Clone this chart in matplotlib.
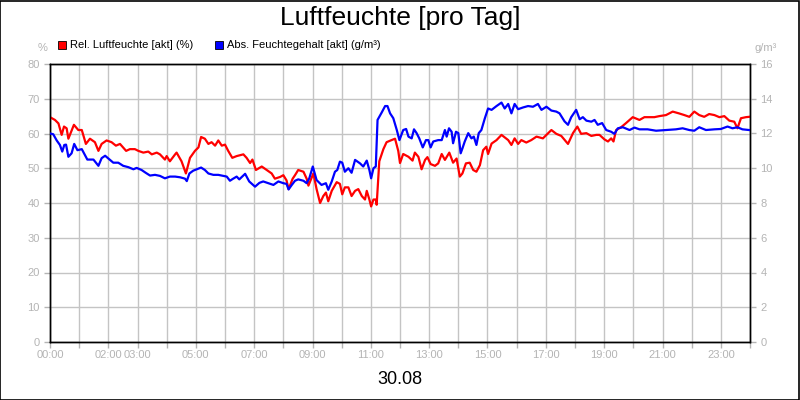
import matplotlib
matplotlib.use("Agg")
import matplotlib.pyplot as plt
from matplotlib.patches import Rectangle

title = "Luftfeuchte [pro Tag]"
date_label = "30.08"
rel_label = "Rel. Luftfeuchte [akt] (%)"
abs_label = "Abs. Feuchtegehalt [akt] (g/m³)"

# Relative humidity (%), left axis
rel_hours = [0.00, 0.17, 0.29, 0.40, 0.48, 0.57, 0.63, 0.82, 0.97, 1.09, 1.23, 1.37, 1.54, 1.66, 1.77, 1.94,
             2.11, 2.26, 2.40, 2.61, 2.74, 2.91, 3.03, 3.20, 3.37, 3.49, 3.66, 3.77, 3.94, 4.00, 4.11, 4.29,
             4.34, 4.51, 4.66, 4.80, 4.97, 5.09, 5.18, 5.31, 5.43, 5.54, 5.66, 5.77, 5.89, 6.00, 6.11, 6.25,
             6.40, 6.63, 6.74, 6.86, 6.94, 7.06, 7.26, 7.43, 7.60, 7.71, 7.89, 8.00, 8.11, 8.18, 8.32, 8.40,
             8.51, 8.69, 8.80, 8.86, 9.03, 9.14, 9.26, 9.37, 9.46, 9.54, 9.66, 9.83, 9.94, 10.02, 10.11, 10.23,
             10.34, 10.46, 10.57, 10.69, 10.80, 10.86, 10.95, 11.01, 11.09, 11.17, 11.20, 11.29, 11.43, 11.54,
             11.68, 11.83, 11.94, 12.00, 12.11, 12.29, 12.43, 12.51, 12.63, 12.74, 12.86, 12.94, 13.05, 13.20,
             13.31, 13.43, 13.54, 13.69, 13.82, 13.94, 14.05, 14.14, 14.26, 14.39, 14.51, 14.62, 14.74, 14.85,
             14.96, 15.02, 15.14, 15.31, 15.48, 15.59, 15.71, 15.82, 15.93, 16.05, 16.16, 16.33, 16.50, 16.68,
             16.90, 17.02, 17.19, 17.36, 17.53, 17.76, 17.93, 18.08, 18.21, 18.39, 18.56, 18.73, 18.84, 19.01,
             19.13, 19.24, 19.32, 19.41, 19.58, 19.75, 19.98, 20.21, 20.38, 20.55, 20.72, 20.89, 21.12, 21.35,
             21.56, 21.75, 21.92, 22.09, 22.26, 22.43, 22.60, 22.78, 22.95, 23.12, 23.29, 23.46, 23.57, 23.69,
             23.86, 23.97]
rel_values = [64.7, 63.9, 62.9, 59.6, 62.0, 61.5, 58.5, 62.5, 61.0, 61.0, 57.0, 58.5, 57.5, 55.0, 57.0, 58.0,
              57.5, 56.5, 57.0, 55.0, 55.5, 55.5, 55.0, 54.5, 54.8, 54.0, 54.5, 54.0, 52.5, 53.5, 52.0, 54.0,
              54.5, 52.0, 48.5, 53.0, 55.0, 56.0, 59.0, 58.5, 57.0, 57.5, 56.5, 58.0, 56.5, 56.8, 55.0, 53.0,
              53.5, 54.0, 53.0, 51.5, 52.5, 49.5, 50.5, 49.5, 48.5, 47.0, 47.5, 48.0, 46.5, 44.0, 47.0, 48.0,
              49.5, 49.0, 47.0, 45.0, 48.5, 44.0, 40.0, 42.0, 43.0, 40.5, 43.5, 46.0, 45.5, 42.5, 44.5, 44.5,
              42.0, 43.5, 44.0, 42.0, 41.0, 43.5, 41.0, 39.0, 41.0, 41.0, 39.5, 52.0, 55.5, 57.5,
              58.0, 58.5, 55.0, 51.5, 54.1, 53.3, 52.2, 54.5, 53.3, 49.7, 52.4, 53.2, 51.2, 50.7,
              51.4, 54.1, 52.4, 54.5, 51.6, 52.8, 47.6, 48.5, 51.4, 51.6, 49.5, 49.0, 50.9, 55.2,
              56.2, 54.1, 57.1, 58.1, 59.6, 58.9, 58.1, 56.7, 58.6, 57.0, 58.1, 57.4, 58.1, 59.1,
              58.6, 59.6, 61.0, 59.9, 59.3, 57.0, 60.1, 62.0, 59.9, 60.1, 59.3, 59.6, 59.6, 58.3,
              57.7, 58.6, 57.7, 61.0, 61.8, 63.0, 64.7, 63.9, 64.7, 64.7, 64.7, 65.0, 65.3, 66.3,
              65.8, 65.3, 64.8, 66.3, 65.3, 64.8, 65.6, 65.3, 64.7, 65.0, 63.7, 63.4, 61.5, 64.4,
              64.7, 64.8]

# Absolute humidity (g/m³), right axis
abs_hours = [0.00, 0.11, 0.23, 0.34, 0.42, 0.49, 0.55, 0.63, 0.74, 0.83, 0.94, 1.09, 1.20, 1.28, 1.49, 1.66,
             1.77, 1.89, 2.06, 2.17, 2.34, 2.51, 2.69, 2.86, 2.97, 3.14, 3.28, 3.43, 3.60, 3.77, 3.94, 4.11,
             4.29, 4.46, 4.63, 4.69, 4.78, 4.91, 5.03, 5.18, 5.31, 5.43, 5.60, 5.77, 5.89, 6.06, 6.17, 6.26,
             6.40, 6.49, 6.69, 6.83, 7.03, 7.18, 7.31, 7.49, 7.66, 7.83, 8.00, 8.11, 8.18, 8.29, 8.40, 8.51,
             8.69, 8.80, 8.89, 9.01, 9.14, 9.31, 9.46, 9.54, 9.66, 9.77, 9.85, 9.94, 10.02, 10.11, 10.23, 10.34,
             10.46, 10.63, 10.74, 10.86, 10.95, 11.01, 11.09, 11.17, 11.23, 11.37, 11.49, 11.57, 11.66, 11.77,
             11.89, 11.98, 12.11, 12.21, 12.29, 12.40, 12.48, 12.57, 12.66, 12.78, 12.89, 12.97, 13.05, 13.14,
             13.31, 13.43, 13.54, 13.60, 13.68, 13.77, 13.82, 13.92, 14.00, 14.08, 14.14, 14.22, 14.34, 14.45,
             14.53, 14.62, 14.70, 14.79, 14.91, 15.02, 15.14, 15.31, 15.48, 15.59, 15.71, 15.82, 15.93, 16.05,
             16.22, 16.39, 16.56, 16.73, 16.85, 17.02, 17.19, 17.36, 17.47, 17.64, 17.76, 17.87, 18.04, 18.16,
             18.27, 18.39, 18.56, 18.67, 18.78, 18.93, 19.07, 19.24, 19.35, 19.47, 19.64, 19.87, 20.04, 20.21,
             20.49, 20.78, 21.12, 21.46, 21.69, 21.92, 22.09, 22.26, 22.49, 22.78, 23.00, 23.23, 23.40, 23.57,
             23.74, 23.97]
abs_values = [12.00, 11.96, 11.60, 11.34, 10.96, 11.34, 11.36, 10.66, 10.86, 11.40, 11.04, 11.10, 10.76, 10.50, 10.50, 10.14,
              10.58, 10.72, 10.48, 10.32, 10.32, 10.14, 10.06, 9.94, 10.02, 9.90, 9.74, 9.58, 9.62, 9.56, 9.42, 9.52,
              9.52, 9.48, 9.40, 9.26, 9.70, 9.86, 9.94, 10.04, 9.90, 9.70, 9.62, 9.62, 9.58, 9.52, 9.28, 9.38,
              9.52, 9.36, 9.68, 9.24, 8.94, 9.16, 9.24, 9.14, 9.04, 9.24, 9.14, 9.10, 8.78, 9.04, 9.28, 9.36,
              9.28, 9.14, 9.42, 10.10, 9.32, 9.04, 9.14, 8.76, 9.24, 9.80, 9.90, 10.38, 10.32, 9.80, 10.00, 9.74,
              10.48, 10.28, 10.10, 10.44, 9.90, 9.42, 10.00, 10.10, 12.78, 13.20, 13.58, 13.58, 13.16, 12.88,
              12.20, 11.62, 12.20, 12.26, 11.82, 11.72, 12.24, 12.02, 11.72, 11.20, 11.62, 11.62, 11.20, 11.54,
              11.62, 11.62, 12.20, 11.82, 12.30, 12.10, 11.44, 12.10, 12.02, 10.86, 11.14, 11.54, 12.02, 11.72,
              11.82, 11.34, 12.02, 12.20, 12.88, 13.44, 13.36, 13.58, 13.78, 13.44, 13.70, 13.16, 13.70, 13.40,
              13.50, 13.58, 13.54, 13.70, 13.36, 13.54, 13.32, 13.26, 13.16, 12.70, 12.50, 12.94, 13.36, 12.82,
              12.94, 12.74, 12.68, 12.78, 12.50, 12.60, 12.20, 12.10, 11.98, 12.30, 12.36, 12.20, 12.34, 12.24,
              12.24, 12.16, 12.20, 12.24, 12.30, 12.20, 12.16, 12.36, 12.20, 12.24, 12.26, 12.40, 12.30, 12.36,
              12.24, 12.20]

x_label_hours = [0, 2, 3, 5, 7, 9, 11, 13, 15, 17, 19, 21, 23]
left_ticks = [0, 10, 20, 30, 40, 50, 60, 70, 80]
right_ticks = [0, 2, 4, 6, 8, 10, 12, 14, 16]

GRAY = "#b4b4b4"
GRID = "#c4c4c4"
plt.rcParams["font.family"] = ["Liberation Sans", "DejaVu Sans"]

fig = plt.figure(figsize=(8, 4), dpi=100)
fig.patch.set_facecolor("white")
ax = fig.add_axes([50 / 800, 58 / 400, 700 / 800, 278 / 400])
ax2 = ax.twinx()

ax.set_xlim(0, 24)
ax.set_ylim(0, 80)
ax2.set_ylim(0, 16)

ax.set_xticks(range(0, 25))
ax.set_xticklabels([f"{h:02d}:00" if h in x_label_hours else "" for h in range(0, 25)])
ax.set_yticks(left_ticks)
ax2.set_yticks(right_ticks)
ax.grid(True, color=GRID, linewidth=1)
ax.set_axisbelow(True)

for a in (ax, ax2):
    a.tick_params(axis="both", colors=GRAY, labelcolor=GRAY, labelsize=8, length=4, width=1, direction="out")
    for s in a.spines.values():
        s.set_color("black")
        s.set_linewidth(1)
ax.tick_params(axis="x", pad=2)

ax.plot(rel_hours, rel_values, color="#ff0000", linewidth=1.6, zorder=3)
ax2.plot(abs_hours, abs_values, color="#0000ff", linewidth=1.6, zorder=3)

fig.text(0.5, 1 - 18 / 400, title, ha="center", va="center", fontsize=19, color="black")
fig.text(0.5, 1 - 379 / 400, date_label, ha="center", va="center", fontsize=13, color="black")
fig.text(43 / 800, 1 - 48 / 400, "%", ha="center", va="center", fontsize=8, color=GRAY)
fig.text(766 / 800, 1 - 48 / 400, "g/m³", ha="center", va="center", fontsize=8, color=GRAY)

# legend
fig.patches.append(Rectangle((58 / 800, 1 - 49 / 400), 8 / 800, 8 / 400, transform=fig.transFigure,
                             facecolor="#ff0000", edgecolor="black", linewidth=0.6))
fig.text(70 / 800, 1 - 45 / 400, rel_label, ha="left", va="center", fontsize=8, color="black")
fig.patches.append(Rectangle((215 / 800, 1 - 49 / 400), 8 / 800, 8 / 400, transform=fig.transFigure,
                             facecolor="#0000ff", edgecolor="black", linewidth=0.6))
fig.text(227 / 800, 1 - 45 / 400, abs_label, ha="left", va="center", fontsize=8, color="black")

# outer border
fig.patches.append(Rectangle((0.0006, 0.0012), 0.9986, 0.9975, transform=fig.transFigure,
                             facecolor="none", edgecolor="black", linewidth=1.2))

fig.savefig("out.png", dpi=100)
